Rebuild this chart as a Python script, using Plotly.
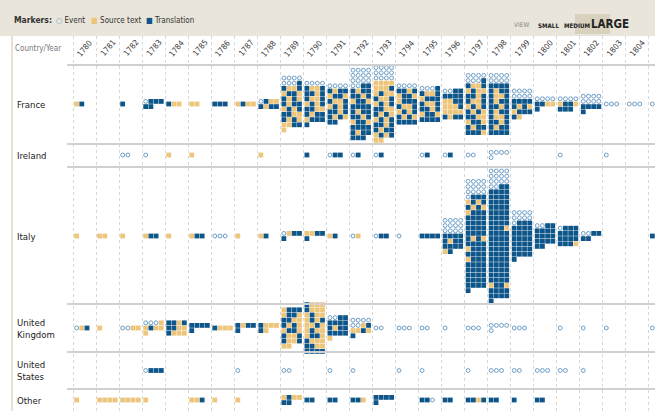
import math
import plotly.graph_objects as go

W, H = 655, 411

# ---- data: one string per country/year, o = event, s = source text, t = translation
YEARS = list(range(1780, 1806))
YEAR_LABELS = [str(y) for y in range(1780, 1805)]
COUNTRIES = ["France", "Ireland", "Italy", "United<br>Kingdom", "United<br>States", "Other"]

FRANCE = {
    1780: "st", 1782: "t", 1783: "ottt tt", 1784: "tss", 1785: "ss", 1786: "ttt",
    1787: "stss", 1788: "otss tstt",
    1789: "oooo ooot tsst stts tsts tstt stst ttss tsts sstt s",
    1790: "oooo tsst ttst tsst stst ttss tstt sttt t",
    1791: "oooo tstt stts tsst stst ttst tsts tt",
    1792: "oooo oooo oooo oott tstt ttst stts tttt tstt ttst stts tttt tstt ttt",
    1793: "oooo oooo oooo ssss ssst stss tsst stst ttss tsts stst ttst tstt stst ss",
    1794: "oooo ttst stts sttt tsst stst tsts tttt",
    1795: "ooot tsst sttt tsst ttst stts tttt",
    1796: "oott tttt sstt ssst ssss tstt",
    1797: "oooo ooot tsst stss ttst tsst stst tsts ttss stts tstt ttts",
    1798: "oooo oooo tttt tstt tsst tstt ttst tstt tsst ttst tstt tttt",
    1799: "oooo oooo tttt tsts sttt ts",
    1800: "oooo ttss t",
    1801: "oooo stts ttt",
    1802: "oooo oooo tttt t",
    1803: "ooo", 1804: "ooo", 1805: "o",
}
IRELAND = {
    1782: "oo", 1783: "o", 1784: "s", 1785: "s", 1788: "s", 1790: "t", 1791: "ott",
    1792: "ot", 1793: "ot", 1795: "ot", 1796: "ot", 1797: "oo", 1798: "ooooo",
    1801: "o", 1803: "o",
}
ITALY = {
    1780: "s", 1781: "ss", 1782: "s", 1783: "stt", 1784: "s", 1785: "stt", 1786: "ooo",
    1787: "s", 1788: "st", 1789: "ostt t", 1790: "sstt t", 1791: "st", 1792: "os",
    1793: "ott", 1794: "o", 1795: "tttt",
    1796: "oooo oooo oooo tttt tstt tttt st",
    1797: "oooo oooo oooo ottt stst tsts sttt tttt tttt tttt tttt tsts tttt sttt "
          "tttt sttt tttt tttt tttt tttt tttt t",
    1798: "oooo oooo oooo oott tttt tttt tttt tttt tttt tttt tttt ttts tttt tttt "
          "tttt tttt tttt tttt tttt tttt tttt tttt stts tttt tttt t",
    1799: "oooo oooo ottt tttt tttt tttt tttt tttt tttt t",
    1800: "oott tttt tttt tttt tt",
    1801: "ottt tttt tttt ttts",
    1802: "oott tt",
    1805: "t",
}
UK = {
    1780: "ost", 1781: "s", 1782: "ooss", 1783: "ooos stss s", 1784: "ttst ttss tsss",
    1785: "tttt t", 1786: "tsss", 1787: "tstt t", 1788: "tsss ts",
    1789: "sttt stts ttss tsts stts tsst tsst ss",
    1790: "tsss tsss stss stst ssts stss stts tsss ttss tttt",
    1791: "oott tttt tstt tttt s",
    1792: "oooo oost ssts t",
    1793: "oo", 1794: "ooo", 1795: "oo", 1796: "o", 1797: "ooo", 1798: "ooooo",
    1799: "ooo", 1801: "o", 1802: "o", 1803: "o", 1805: "o",
}
US = {
    1783: "ottt", 1787: "o", 1789: "oo", 1791: "o", 1792: "o", 1794: "o", 1795: "o",
    1797: "o", 1798: "ooo", 1799: "oo", 1800: "ooo", 1801: "oo", 1802: "o",
}
OTHER = {
    1780: "s", 1781: "ssss", 1782: "ssss", 1783: "s", 1785: "sst", 1786: "s", 1787: "s",
    1789: "stss tt", 1790: "tt", 1791: "tt", 1792: "tts", 1793: "tttt t", 1795: "tto",
    1796: "tt", 1797: "ttst", 1798: "tt", 1799: "t", 1800: "tt",
}
CELLS = [FRANCE, IRELAND, ITALY, UK, US, OTHER]

KINDS = ["o", "s", "t"]
NAMES = {"o": "Event", "s": "Source text", "t": "Translation"}
SYMBOLS = {"o": "○", "s": "■", "t": "■"}
COLORS = {"o": "#6d9ec7", "s": "#edc57b", "t": "#0e568a"}

# ---- layout (pixels)
COL0 = 73          # left edge of the 1780 column
COL_W = 23.03      # width of one year
PITCH = 5.2        # spacing of the little squares
ROW_MID = [104, 155, 236, 328, 370.5, 400]
ROW_SEP = [65, 144, 167, 304, 352, 389]
LEGEND_X = [54, 89, 144]
FONT = "DejaVu Sans Condensed, Liberation Sans Narrow, sans-serif"


def px(x):
    return x / W


pts = {k: ([], []) for k in KINDS}
for mid, cells in zip(ROW_MID, CELLS):
    for year, code in cells.items():
        code = code.replace(" ", "")
        nrows = math.ceil(len(code) / 4)
        for i, ch in enumerate(code):
            r, c = divmod(i, 4)
            pts[ch][0].append(year + (1 + (c + 0.5) * PITCH) / COL_W)
            pts[ch][1].append(mid + (r - (nrows - 1) / 2) * PITCH)

fig = go.Figure()
for k in KINDS:
    if k == "o":
        marker = dict(symbol="circle-open", size=3.9, color=COLORS[k], line=dict(width=1, color=COLORS[k]))
    else:
        marker = dict(symbol="square", size=4.8, color=COLORS[k], line=dict(width=0))
    fig.add_trace(go.Scatter(x=pts[k][0], y=pts[k][1], mode="markers", name=NAMES[k],
                             marker=marker, hoverinfo="skip"))

shapes = [
    dict(type="line", xref="paper", yref="y", x0=px(12), x1=px(12), y0=36, y1=H,
         line=dict(color="#e6e1d2", width=2)),
    dict(type="rect", xref="paper", yref="y", x0=0, x1=1, y0=0, y1=36,
         fillcolor="#e9e5da", line=dict(width=0)),
    dict(type="rect", xref="paper", yref="y", x0=px(575), x1=px(610), y0=14, y1=34,
         fillcolor="#d7d1bd", line=dict(width=0)),
]
for y in ROW_SEP:
    shapes.append(dict(type="line", xref="paper", yref="y", x0=px(67), x1=1, y0=y, y1=y,
                       line=dict(color="#d0d0d0", width=2)))

ann = [
    dict(x=px(12), y=20, xanchor="left", text="<b>Markers:</b>",
         font=dict(size=8.5, color="#333")),
    dict(x=px(531), y=25, text="VIEW", font=dict(size=6.5, color="#888")),
    dict(x=px(561), y=25, text="<b>SMALL</b>", font=dict(size=6.2, color="#222")),
    dict(x=px(592.5), y=25, text="<b>MEDIUM</b>", font=dict(size=6.2, color="#222")),
    dict(x=px(631), y=24, text="<b>LARGE</b>", font=dict(size=11.5, color="#222")),
    dict(x=px(13), y=48, xanchor="left", text="Country/Year", font=dict(size=8, color="#777")),
]
for k, lx in zip(KINDS, LEGEND_X):
    ann.append(dict(x=px(lx), y=20, xanchor="left",
                    text=f"<span style='color:{COLORS[k]}'>{SYMBOLS[k]}</span> {NAMES[k]}",
                    font=dict(size=8, color="#333")))
for lab in YEAR_LABELS:
    ann.append(dict(x=int(lab) + 0.5, xref="x", y=48, text=lab, textangle=-50,
                    font=dict(size=8, color="#333")))
for name, mid in zip(COUNTRIES, ROW_MID):
    ann.append(dict(x=px(15), y=mid, xanchor="left", text=name, align="left",
                    font=dict(size=9.5, color="#222")))
for a in ann:
    a.setdefault("xref", "paper")
    a["yref"] = "y"
    a["showarrow"] = False
    a.setdefault("yanchor", "middle")

fig.update_layout(
    width=W, height=H,
    margin=dict(l=0, r=0, t=0, b=0, pad=0),
    paper_bgcolor="white", plot_bgcolor="white",
    showlegend=False,
    font=dict(family=FONT),
    shapes=shapes,
    annotations=ann,
    xaxis=dict(range=[1780 - COL0 / COL_W, 1780 + (W - COL0) / COL_W],
               tickvals=YEARS, showticklabels=False, ticks="",
               showgrid=True, gridcolor="#d8d8d8", griddash="dot", gridwidth=1,
               zeroline=False, showline=False, fixedrange=True),
    yaxis=dict(range=[H, 0], showgrid=False, showticklabels=False, zeroline=False,
               showline=False, fixedrange=True),
)

fig.write_html("out.html", config={"displayModeBar": False},
               post_script="document.body.style.margin='0';")
